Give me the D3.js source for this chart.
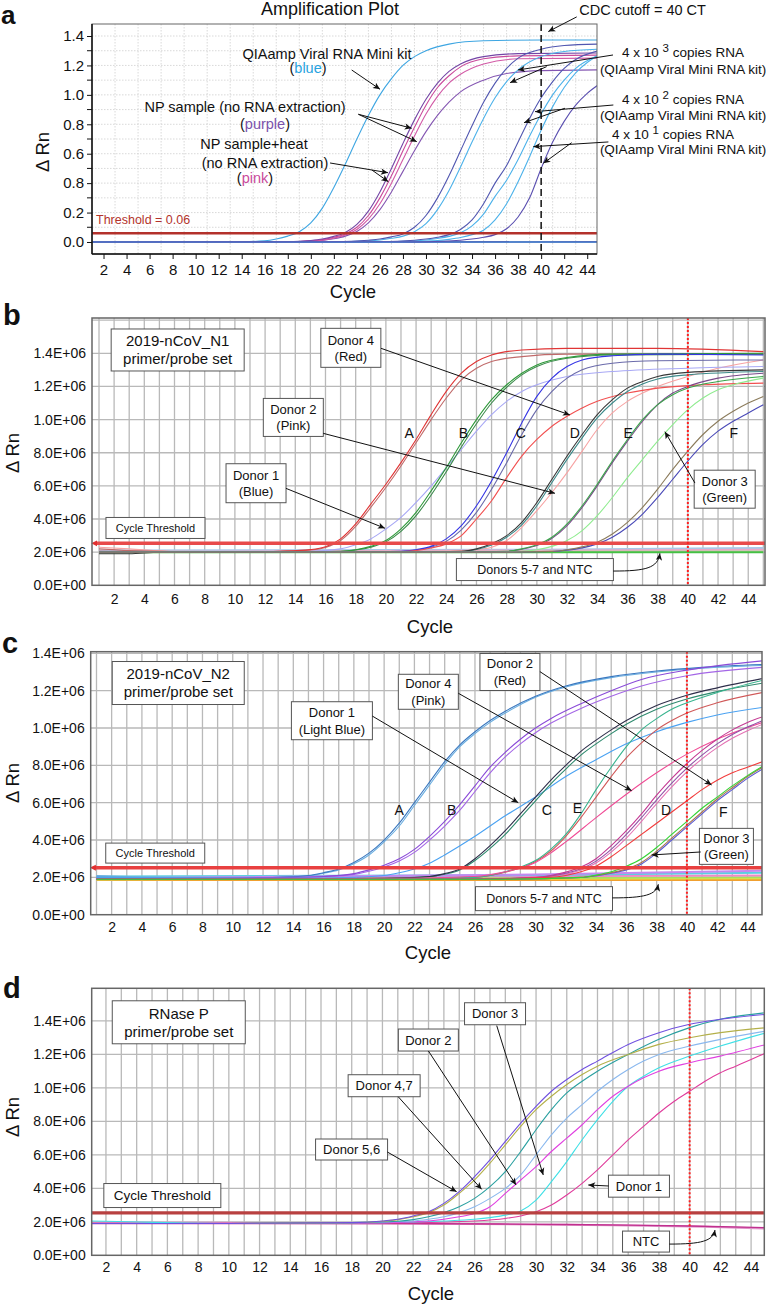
<!DOCTYPE html>
<html>
<head>
<meta charset="utf-8">
<title>Amplification plots</title>
<style>
body { margin: 0; background: #fff; }
text { font-family: "Liberation Sans", Arial, sans-serif; fill: #111; }
</style>
</head>
<body>
<svg width="771" height="1304"></svg>
<script src="https://cdn.jsdelivr.net/npm/d3@7"></script>
<script>
// ---------- data: [cycle, ΔRn] ----------
// panel a (ΔRn)
const aFlatLight = [[1, 0.0], [45, 0.0]];
const aFlatDark = [[1, -0.002], [45, 0.001]];
const aKit = [[1, 0], [14, 0.002], [16, 0.008], [17, 0.02], [18, 0.04], [19, 0.07], [20, 0.13], [21, 0.23], [22, 0.37], [23, 0.53], [24, 0.70], [25, 0.86], [26, 1.0], [27, 1.11], [28, 1.2], [29, 1.26], [30, 1.30], [32, 1.345], [35, 1.368], [40, 1.373], [45, 1.373]];
const aNp1 = [[1, 0], [18, 0.002], [20, 0.01], [21, 0.02], [22, 0.038], [23, 0.065], [24, 0.12], [25, 0.21], [26, 0.34], [27, 0.5], [28, 0.67], [29, 0.83], [30, 0.97], [31, 1.08], [32, 1.16], [33, 1.21], [35, 1.26], [38, 1.28], [45, 1.285]];
const aHeat1 = [[1, 0], [18, 0.002], [20, 0.008], [21, 0.017], [22, 0.032], [23, 0.055], [24, 0.1], [25, 0.18], [26, 0.3], [27, 0.45], [28, 0.62], [29, 0.78], [30, 0.93], [31, 1.05], [32, 1.13], [33, 1.19], [35, 1.245], [38, 1.265], [45, 1.27]];
const aHeat2 = [[1, 0], [18, 0.001], [20, 0.006], [21, 0.013], [22, 0.026], [23, 0.047], [24, 0.085], [25, 0.155], [26, 0.26], [27, 0.4], [28, 0.56], [29, 0.72], [30, 0.87], [31, 0.99], [32, 1.08], [33, 1.14], [35, 1.21], [38, 1.245], [45, 1.25]];
const aNp2 = [[1, 0], [18, 0.001], [20, 0.005], [21, 0.011], [22, 0.022], [23, 0.04], [24, 0.072], [25, 0.13], [26, 0.22], [27, 0.34], [28, 0.48], [29, 0.62], [30, 0.75], [31, 0.86], [32, 0.95], [33, 1.02], [35, 1.1], [37, 1.145], [40, 1.165], [45, 1.17]];
const aCopies3Dk = [[1, 0], [22, 0.002], [25, 0.012], [26, 0.02], [27, 0.035], [28, 0.055], [29, 0.1], [30, 0.18], [31, 0.3], [32, 0.45], [33, 0.62], [34, 0.79], [35, 0.95], [36, 1.08], [37, 1.18], [38, 1.25], [40, 1.31], [42, 1.335], [45, 1.345]];
const aCopies3Lt = [[1, 0], [22, 0.001], [25, 0.008], [26, 0.014], [27, 0.025], [28, 0.04], [29, 0.07], [30, 0.125], [31, 0.22], [32, 0.35], [33, 0.51], [34, 0.68], [35, 0.84], [36, 0.98], [37, 1.09], [38, 1.17], [40, 1.26], [42, 1.295], [45, 1.31]];
const aCopies2Dk = [[1, 0], [26, 0.002], [29, 0.012], [30, 0.02], [31, 0.032], [32, 0.05], [33, 0.085], [34, 0.15], [35, 0.26], [36, 0.4], [37, 0.52], [38, 0.68], [39, 0.84], [40, 0.98], [41, 1.09], [42, 1.18], [43, 1.24], [45, 1.3]];
const aCopies2Lt = [[1, 0], [26, 0.001], [29, 0.008], [30, 0.014], [31, 0.024], [32, 0.038], [33, 0.062], [34, 0.11], [35, 0.19], [36, 0.31], [37, 0.42], [38, 0.56], [39, 0.72], [40, 0.87], [41, 1.0], [42, 1.1], [43, 1.18], [45, 1.27]];
const aCopies1Lt = [[1, 0], [28, 0.002], [31, 0.01], [32, 0.018], [33, 0.03], [34, 0.05], [35, 0.08], [36, 0.15], [37, 0.26], [38, 0.41], [39, 0.58], [40, 0.76], [41, 0.92], [42, 1.05], [43, 1.15], [44, 1.22], [45, 1.27]];
const aCopies1Dk = [[1, 0], [30, 0.002], [33, 0.012], [34, 0.02], [35, 0.032], [36, 0.05], [37, 0.09], [38, 0.17], [39, 0.3], [40, 0.5], [41, 0.68], [42, 0.82], [43, 0.93], [44, 1.01], [45, 1.07]];
const aYTicks = [0, 0.2, 0.4, 0.6, 0.8, 1.0, 1.2, 1.4];
const aYLabels = ["0.0", "0.2", "0.8", "0.6", "0.8", "1.0", "1.2", "1.4"];

// panel b (ΔRn, plotted in millions)
const bRedA = [[1, 0.205], [10, 0.2], [13, 0.205], [15, 0.215], [16, 0.232], [17, 0.28], [18, 0.37], [19, 0.49], [20, 0.61], [21, 0.74], [22, 0.88], [23, 1.03], [24, 1.17], [25, 1.28], [26, 1.35], [27, 1.39], [29, 1.42], [32, 1.43], [38, 1.43], [45, 1.41]];
const bBrownA = [[1, 0.22], [3, 0.21], [10, 0.2], [13, 0.205], [15, 0.213], [16, 0.228], [17, 0.27], [18, 0.355], [19, 0.47], [20, 0.59], [21, 0.72], [22, 0.86], [23, 1.0], [24, 1.13], [25, 1.24], [26, 1.31], [27, 1.35], [29, 1.38], [32, 1.395], [45, 1.395]];
const bDonor1 = [[1, 0.2], [12, 0.2], [15, 0.205], [17, 0.22], [18, 0.245], [19, 0.28], [20, 0.34], [21, 0.41], [22, 0.5], [23, 0.6], [24, 0.71], [25, 0.82], [26, 0.93], [27, 1.03], [28, 1.11], [29, 1.17], [30, 1.21], [32, 1.26], [35, 1.29], [40, 1.31], [45, 1.32]];
const bGreenB = [[1, 0.2], [14, 0.2], [17, 0.205], [18, 0.215], [19, 0.235], [20, 0.27], [21, 0.34], [22, 0.44], [23, 0.57], [24, 0.71], [25, 0.86], [26, 1.0], [27, 1.12], [28, 1.21], [29, 1.28], [30, 1.33], [32, 1.375], [35, 1.395], [45, 1.40]];
const bGreenB2 = [[1, 0.2], [14, 0.2], [17, 0.204], [18, 0.213], [19, 0.23], [20, 0.262], [21, 0.325], [22, 0.42], [23, 0.545], [24, 0.685], [25, 0.835], [26, 0.975], [27, 1.1], [28, 1.195], [29, 1.27], [30, 1.32], [32, 1.37], [35, 1.39], [45, 1.395]];
const bBlueC = [[1, 0.2], [18, 0.2], [21, 0.205], [22, 0.215], [23, 0.235], [24, 0.28], [25, 0.36], [26, 0.48], [27, 0.63], [28, 0.8], [29, 0.98], [30, 1.14], [31, 1.25], [32, 1.32], [33, 1.36], [35, 1.385], [38, 1.395], [45, 1.39]];
const bSlateC = [[1, 0.2], [18, 0.2], [21, 0.204], [22, 0.212], [23, 0.23], [24, 0.265], [25, 0.335], [26, 0.44], [27, 0.58], [28, 0.74], [29, 0.91], [30, 1.06], [31, 1.17], [32, 1.25], [33, 1.3], [35, 1.34], [38, 1.355], [45, 1.36]];
const bDonor4 = [[1, 0.2], [20, 0.2], [22, 0.21], [23, 0.225], [24, 0.25], [25, 0.3], [26, 0.4], [27, 0.51], [28, 0.65], [29, 0.78], [30, 0.88], [31, 0.96], [32, 1.02], [33, 1.07], [34, 1.11], [36, 1.16], [38, 1.19], [41, 1.21], [45, 1.22]];
const bDonor2 = [[1, 0.23], [3, 0.22], [6, 0.205], [20, 0.2], [24, 0.205], [26, 0.215], [27, 0.23], [28, 0.27], [29, 0.35], [30, 0.45], [31, 0.56], [32, 0.68], [33, 0.81], [34, 0.94], [35, 1.04], [36, 1.11], [37, 1.16], [38, 1.2], [40, 1.26], [42, 1.31], [45, 1.36]];
const bBlackD = [[1, 0.19], [3, 0.19], [5, 0.2], [22, 0.2], [25, 0.205], [26, 0.22], [27, 0.25], [28, 0.3], [29, 0.38], [30, 0.5], [31, 0.64], [32, 0.78], [33, 0.91], [34, 1.03], [35, 1.12], [36, 1.19], [37, 1.23], [38, 1.26], [40, 1.285], [45, 1.3]];
const bTealD = [[1, 0.2], [22, 0.2], [25, 0.204], [26, 0.216], [27, 0.243], [28, 0.29], [29, 0.365], [30, 0.48], [31, 0.62], [32, 0.76], [33, 0.89], [34, 1.01], [35, 1.1], [36, 1.17], [37, 1.215], [38, 1.245], [40, 1.27], [45, 1.29]];
const bGreenE = [[1, 0.2], [25, 0.2], [28, 0.205], [29, 0.22], [30, 0.245], [31, 0.29], [32, 0.37], [33, 0.48], [34, 0.61], [35, 0.75], [36, 0.88], [37, 1.0], [38, 1.09], [39, 1.15], [40, 1.19], [42, 1.23], [45, 1.26]];
const bPurpleE = [[1, 0.2], [25, 0.2], [28, 0.204], [29, 0.218], [30, 0.24], [31, 0.283], [32, 0.36], [33, 0.47], [34, 0.6], [35, 0.74], [36, 0.87], [37, 0.99], [38, 1.09], [39, 1.16], [40, 1.2], [42, 1.25], [45, 1.28]];
const bDonor3 = [[1, 0.2], [26, 0.2], [29, 0.205], [30, 0.215], [31, 0.235], [32, 0.27], [33, 0.33], [34, 0.42], [35, 0.53], [36, 0.65], [37, 0.76], [38, 0.87], [39, 0.97], [40, 1.06], [41, 1.13], [42, 1.18], [43, 1.21], [45, 1.25]];
const bOliveF = [[1, 0.2], [28, 0.2], [31, 0.205], [32, 0.215], [33, 0.232], [34, 0.26], [35, 0.31], [36, 0.38], [37, 0.47], [38, 0.58], [39, 0.7], [40, 0.81], [41, 0.91], [42, 0.99], [43, 1.05], [44, 1.1], [45, 1.14]];
const bNavyF = [[1, 0.2], [28, 0.2], [31, 0.204], [32, 0.212], [33, 0.226], [34, 0.25], [35, 0.29], [36, 0.35], [37, 0.43], [38, 0.53], [39, 0.64], [40, 0.75], [41, 0.85], [42, 0.93], [43, 0.99], [44, 1.04], [45, 1.09]];
const bNtc1 = [[1, 0.2], [45, 0.2]];
const bNtc2 = [[1, 0.2], [45, 0.205]];
const bNtc3 = [[1, 0.21], [30, 0.215], [45, 0.225]];
const bNtc4 = [[1, 0.2], [45, 0.215]];
const bThreshold = 0.253;

// panel c (ΔRn, plotted in millions)
const cBlueA = [[1, 0.2], [10, 0.195], [13, 0.2], [15, 0.21], [16, 0.225], [17, 0.245], [18, 0.28], [19, 0.33], [20, 0.4], [21, 0.49], [22, 0.6], [23, 0.71], [24, 0.82], [25, 0.91], [26, 0.98], [27, 1.04], [28, 1.09], [30, 1.17], [32, 1.225], [35, 1.275], [38, 1.305], [41, 1.325], [45, 1.34]];
const cLtBlueA = [[1, 0.21], [10, 0.195], [13, 0.2], [15, 0.208], [16, 0.222], [17, 0.24], [18, 0.273], [19, 0.32], [20, 0.39], [21, 0.475], [22, 0.585], [23, 0.695], [24, 0.805], [25, 0.9], [26, 0.97], [27, 1.03], [28, 1.08], [30, 1.165], [32, 1.22], [35, 1.27], [38, 1.3], [41, 1.32], [45, 1.335]];
const cPurpleB = [[1, 0.19], [8, 0.195], [14, 0.2], [16, 0.205], [18, 0.22], [19, 0.24], [20, 0.265], [21, 0.3], [22, 0.35], [23, 0.42], [24, 0.5], [25, 0.59], [26, 0.69], [27, 0.79], [28, 0.87], [29, 0.94], [30, 1.0], [31, 1.05], [33, 1.13], [35, 1.2], [37, 1.26], [40, 1.31], [45, 1.36]];
const cPurpleB2 = [[1, 0.2], [8, 0.195], [14, 0.2], [16, 0.204], [18, 0.216], [19, 0.233], [20, 0.256], [21, 0.288], [22, 0.334], [23, 0.4], [24, 0.475], [25, 0.56], [26, 0.66], [27, 0.76], [28, 0.845], [29, 0.915], [30, 0.975], [31, 1.025], [33, 1.105], [35, 1.17], [37, 1.225], [40, 1.28], [45, 1.325]];
const cDonor1 = [[1, 0.2], [14, 0.195], [18, 0.2], [20, 0.21], [21, 0.225], [22, 0.245], [23, 0.275], [24, 0.32], [26, 0.42], [28, 0.53], [30, 0.63], [32, 0.74], [34, 0.83], [36, 0.915], [38, 0.98], [40, 1.03], [42, 1.07], [45, 1.11]];
const cBlackC = [[1, 0.19], [12, 0.19], [20, 0.195], [23, 0.205], [24, 0.22], [25, 0.245], [26, 0.3], [27, 0.37], [28, 0.45], [29, 0.54], [30, 0.63], [31, 0.72], [32, 0.8], [33, 0.875], [34, 0.935], [35, 0.99], [36, 1.04], [38, 1.12], [40, 1.175], [42, 1.215], [45, 1.265]];
const cTealC = [[1, 0.19], [12, 0.19], [20, 0.195], [23, 0.204], [24, 0.217], [25, 0.24], [26, 0.29], [27, 0.355], [28, 0.43], [29, 0.52], [30, 0.61], [31, 0.7], [32, 0.78], [33, 0.855], [34, 0.915], [35, 0.97], [36, 1.02], [38, 1.1], [40, 1.155], [42, 1.195], [45, 1.24]];
const cTealE = [[1, 0.19], [20, 0.19], [26, 0.2], [27, 0.21], [28, 0.23], [29, 0.255], [30, 0.29], [31, 0.35], [32, 0.43], [33, 0.54], [34, 0.67], [35, 0.79], [36, 0.9], [37, 0.99], [38, 1.05], [39, 1.1], [40, 1.135], [42, 1.19], [45, 1.255]];
const cRedE = [[1, 0.19], [20, 0.19], [26, 0.2], [27, 0.21], [28, 0.228], [29, 0.25], [30, 0.285], [31, 0.34], [32, 0.42], [33, 0.52], [34, 0.63], [35, 0.74], [36, 0.84], [37, 0.92], [38, 0.99], [39, 1.04], [40, 1.08], [42, 1.135], [45, 1.19]];
const cDonor4 = [[1, 0.19], [20, 0.195], [26, 0.205], [28, 0.23], [29, 0.25], [30, 0.28], [31, 0.33], [32, 0.39], [34, 0.52], [36, 0.645], [38, 0.76], [40, 0.86], [42, 0.94], [45, 1.03]];
const cMagentaD = [[1, 0.19], [25, 0.19], [30, 0.2], [31, 0.21], [32, 0.228], [33, 0.255], [34, 0.3], [35, 0.37], [36, 0.45], [37, 0.54], [38, 0.64], [39, 0.73], [40, 0.81], [41, 0.88], [42, 0.94], [43, 0.99], [44, 1.03], [45, 1.06]];
const cPurpleD = [[1, 0.19], [25, 0.19], [30, 0.199], [31, 0.207], [32, 0.222], [33, 0.246], [34, 0.287], [35, 0.35], [36, 0.43], [37, 0.52], [38, 0.615], [39, 0.705], [40, 0.785], [41, 0.855], [42, 0.915], [43, 0.965], [44, 1.005], [45, 1.04]];
const cPinkD = [[1, 0.19], [25, 0.19], [30, 0.198], [31, 0.205], [32, 0.218], [33, 0.24], [34, 0.277], [35, 0.335], [36, 0.41], [37, 0.5], [38, 0.595], [39, 0.685], [40, 0.765], [41, 0.835], [42, 0.895], [43, 0.945], [44, 0.985], [45, 1.02]];
const cDonor2 = [[1, 0.19], [25, 0.19], [31, 0.2], [32, 0.21], [33, 0.23], [34, 0.26], [35, 0.31], [36, 0.37], [37, 0.43], [38, 0.49], [39, 0.55], [40, 0.61], [41, 0.67], [42, 0.72], [43, 0.76], [44, 0.79], [45, 0.82]];
const cBrownF = [[1, 0.19], [28, 0.19], [33, 0.2], [34, 0.21], [35, 0.225], [36, 0.245], [37, 0.28], [38, 0.34], [39, 0.41], [40, 0.48], [41, 0.55], [42, 0.62], [43, 0.68], [44, 0.74], [45, 0.79]];
const cBlueF = [[1, 0.19], [28, 0.19], [33, 0.199], [34, 0.208], [35, 0.222], [36, 0.24], [37, 0.272], [38, 0.33], [39, 0.4], [40, 0.47], [41, 0.54], [42, 0.61], [43, 0.67], [44, 0.73], [45, 0.78]];
const cDonor3 = [[1, 0.19], [28, 0.19], [33, 0.2], [34, 0.212], [35, 0.23], [36, 0.26], [37, 0.3], [38, 0.36], [39, 0.43], [40, 0.5], [41, 0.57], [42, 0.63], [43, 0.69], [44, 0.745], [45, 0.795]];
const cNtc1 = [[1, 0.186], [45, 0.186]];
const cNtc2 = [[1, 0.205], [30, 0.212], [45, 0.225]];
const cNtc3 = [[1, 0.2], [45, 0.21]];
const cNtc4 = [[1, 0.195], [30, 0.215], [45, 0.235]];
const cNtc5 = [[1, 0.19], [45, 0.2]];
const cNtc6 = [[1, 0.19], [45, 0.195]];
const cThreshold = 0.252;

// panel d (ΔRn, plotted in millions)
const dDonor56 = [[1, 0.19], [10, 0.19], [18, 0.195], [20, 0.205], [21, 0.215], [22, 0.235], [23, 0.26], [24, 0.31], [25, 0.38], [26, 0.47], [27, 0.57], [28, 0.68], [29, 0.79], [30, 0.89], [31, 0.98], [32, 1.05], [33, 1.11], [34, 1.16], [36, 1.26], [38, 1.33], [40, 1.38], [42, 1.41], [45, 1.44]];
const dOlive = [[1, 0.19], [10, 0.19], [18, 0.195], [20, 0.203], [21, 0.213], [22, 0.23], [23, 0.255], [24, 0.3], [25, 0.37], [26, 0.45], [27, 0.55], [28, 0.66], [29, 0.77], [30, 0.87], [31, 0.95], [32, 1.02], [33, 1.08], [34, 1.13], [36, 1.2], [38, 1.26], [40, 1.3], [42, 1.33], [45, 1.36]];
const dTeal = [[1, 0.19], [10, 0.19], [18, 0.195], [21, 0.203], [22, 0.213], [23, 0.23], [24, 0.255], [25, 0.29], [26, 0.34], [27, 0.41], [28, 0.5], [29, 0.62], [30, 0.75], [31, 0.87], [32, 0.97], [33, 1.04], [34, 1.1], [36, 1.2], [38, 1.29], [40, 1.36], [42, 1.41], [45, 1.45]];
const dDonor2 = [[1, 0.19], [10, 0.19], [18, 0.195], [22, 0.205], [23, 0.215], [24, 0.23], [25, 0.255], [26, 0.29], [27, 0.34], [28, 0.4], [29, 0.48], [30, 0.6], [31, 0.72], [32, 0.82], [33, 0.9], [34, 0.98], [35, 1.05], [36, 1.11], [37, 1.16], [38, 1.2], [40, 1.25], [42, 1.29], [45, 1.34]];
const dDonor3 = [[1, 0.19], [10, 0.19], [20, 0.195], [23, 0.205], [24, 0.215], [25, 0.23], [26, 0.25], [27, 0.29], [28, 0.37], [29, 0.45], [30, 0.53], [31, 0.62], [32, 0.7], [33, 0.78], [34, 0.87], [35, 0.95], [36, 1.01], [37, 1.06], [38, 1.1], [40, 1.15], [42, 1.19], [45, 1.26]];
const dCyan = [[1, 0.205], [3.5, 0.2], [10, 0.19], [20, 0.195], [24, 0.205], [26, 0.215], [27, 0.225], [28, 0.24], [29, 0.265], [30, 0.33], [31, 0.44], [32, 0.56], [33, 0.69], [34, 0.81], [35, 0.92], [36, 1.01], [37, 1.07], [38, 1.12], [40, 1.19], [42, 1.25], [45, 1.33]];
const dDonor1 = [[1, 0.19], [10, 0.19], [22, 0.195], [26, 0.205], [28, 0.22], [29, 0.235], [30, 0.26], [31, 0.3], [32, 0.36], [33, 0.43], [34, 0.51], [35, 0.6], [36, 0.69], [37, 0.77], [38, 0.85], [39, 0.92], [40, 0.98], [41, 1.04], [42, 1.09], [43, 1.13], [44, 1.17], [45, 1.21]];
const dNtc1 = [[1, 0.19], [20, 0.19], [30, 0.185], [36, 0.18], [40, 0.175], [45, 0.165]];
const dNtc2 = [[1, 0.195], [22, 0.19], [35, 0.18], [41, 0.17], [45, 0.16]];
const dThreshold = 0.254;

const bcdYTicks = [0, 0.2, 0.4, 0.6, 0.8, 1.0, 1.2, 1.4];
const bcdYLabels = ["0.0E+00", "2.0E+06", "4.0E+06", "6.0E+06", "8.0E+06", "1.0E+06", "1.2E+06", "1.4E+06"];
const xTicks = d3.range(2, 45, 2);
const cutoffCycle = 40;

// ---------- drawing ----------
const svg = d3.select("svg");
const defs = svg.append("defs");
defs.append("marker").attr("id", "arr")
  .attr("viewBox", "0 0 10 10").attr("refX", 10).attr("refY", 5)
  .attr("markerWidth", 9).attr("markerHeight", 7).attr("markerUnits", "userSpaceOnUse")
  .attr("orient", "auto")
  .append("path").attr("d", "M0,0.5 L10,5 L0,9.5 L2.5,5 z").attr("fill", "#111");
defs.append("marker").attr("id", "redArr")
  .attr("viewBox", "0 0 10 10").attr("refX", 2).attr("refY", 5)
  .attr("markerWidth", 6).attr("markerHeight", 7).attr("markerUnits", "userSpaceOnUse")
  .attr("orient", "auto-start-reverse")
  .append("path").attr("d", "M0,0 L10,5 L0,10 z").attr("fill", "#e03030");

const line = d3.line().curve(d3.curveMonotoneX);

function drawPanel(cfg) {
  const [x0, y0, x1, y1] = cfg.box;
  const x = d3.scaleLinear().domain(cfg.xDomain).range([x0, x1]);
  const y = d3.scaleLinear().domain(cfg.yDomain).range([y1, y0]);
  const g = svg.append("g");
  defs.append("clipPath").attr("id", "clip-" + cfg.id)
    .append("rect").attr("x", x0).attr("y", y0).attr("width", x1 - x0).attr("height", y1 - y0);

  // grid
  const grid = g.append("g").attr("stroke", cfg.gridColor).attr("stroke-width", cfg.gridWidth)
    .attr("stroke-dasharray", cfg.gridDash);
  grid.selectAll(".gv").data(cfg.gridX.filter(d => x(d) > x0 + 0.5 && x(d) < x1 - 0.5)).join("line")
    .attr("class", "gv").attr("x1", d => x(d)).attr("x2", d => x(d)).attr("y1", y0).attr("y2", y1);
  grid.selectAll(".gh").data(cfg.gridY.filter(d => y(d) > y0 + 0.5 && y(d) < y1 - 0.5)).join("line")
    .attr("class", "gh").attr("x1", x0).attr("x2", x1).attr("y1", d => y(d)).attr("y2", d => y(d));

  // curves
  line.x(d => x(d[0])).y(d => y(d[1]));
  g.append("g").attr("clip-path", "url(#clip-" + cfg.id + ")")
    .selectAll("path").data(cfg.series).join("path")
    .attr("d", d => line(d.pts))
    .attr("fill", "none")
    .attr("stroke", d => d.color)
    .attr("stroke-width", d => d.w || 1.1);

  // threshold
  const th = g.append("line").attr("x1", x0 + (cfg.thArrow ? 4 : 0)).attr("x2", x1)
    .attr("y1", y(cfg.threshold)).attr("y2", y(cfg.threshold))
    .attr("stroke", cfg.thColor).attr("stroke-width", cfg.thWidth);
  if (cfg.thArrow) th.attr("marker-start", "url(#redArr)");

  // CT cutoff
  g.append("line").attr("x1", x(cutoffCycle)).attr("x2", x(cutoffCycle)).attr("y1", y0).attr("y2", y1)
    .attr("stroke", cfg.cutColor).attr("stroke-width", cfg.cutWidth).attr("stroke-dasharray", cfg.cutDash);

  // frame
  g.append("rect").attr("x", x0).attr("y", y0).attr("width", x1 - x0).attr("height", y1 - y0)
    .attr("fill", "none").attr("stroke", cfg.frameColor).attr("stroke-width", cfg.frameWidth);

  // axes
  const ya = g.append("g").attr("transform", `translate(${x0},0)`)
    .call(d3.axisLeft(y).tickValues(cfg.yTicks).tickFormat((d, i) => cfg.yLabels[i])
      .tickSize(cfg.tickSize).tickPadding(cfg.yPad));
  const xa = g.append("g").attr("transform", `translate(0,${y1})`)
    .call(d3.axisBottom(x).tickValues(xTicks).tickFormat(d3.format("d"))
      .tickSize(cfg.tickSize).tickPadding(cfg.xPad));
  [ya, xa].forEach(a => {
    a.select(".domain").remove();
    a.selectAll("text").attr("font-size", cfg.tickFont).attr("fill", "#111")
      .attr("font-family", '"Liberation Sans", Arial, sans-serif');
    a.selectAll("line").attr("stroke", "#111");
  });
  if (cfg.minorY) {
    g.append("g").selectAll("line").data(cfg.minorY).join("line")
      .attr("x1", x0 - cfg.tickSize).attr("x2", x0).attr("y1", d => y(d)).attr("y2", d => y(d))
      .attr("stroke", "#111");
  }
  if (cfg.axisLines) {
    g.append("line").attr("x1", x0).attr("x2", x0).attr("y1", y0).attr("y2", y1).attr("stroke", "#111").attr("stroke-width", 1.5);
    g.append("line").attr("x1", x0).attr("x2", x1).attr("y1", y1).attr("y2", y1).attr("stroke", "#111").attr("stroke-width", 1.5);
  }

  // titles
  g.append("text").attr("x", cfg.cycleLabel[0]).attr("y", cfg.cycleLabel[1])
    .attr("text-anchor", "middle").attr("font-size", 18.5).text("Cycle");
  g.append("text").attr("transform", `translate(${cfg.rnLabel[0]},${cfg.rnLabel[1]}) rotate(-90)`)
    .attr("text-anchor", "middle").attr("dy", "0.35em").attr("font-size", 18.5).text("Δ Rn");
  g.append("text").attr("x", cfg.letter[0]).attr("y", cfg.letter[1])
    .attr("font-size", cfg.letter[2] || 29).attr("font-weight", "bold").text(cfg.id);
  return { g, x, y };
}

function label(P, c, v, parts, anchor, size) {
  const t = P.g.append("text").attr("x", P.x(c)).attr("y", P.y(v))
    .attr("text-anchor", anchor).attr("font-size", size);
  parts.forEach(p => {
    const s = t.append("tspan").text(p[0]);
    if (p[1]) s.attr("fill", p[1]);
  });
  return t;
}

function copies(P, c, v, c2, v2, exp) {
  const t = P.g.append("text").attr("x", P.x(c)).attr("y", P.y(v))
    .attr("text-anchor", "middle").attr("font-size", 13.5);
  t.append("tspan").text("4 x 10 ");
  t.append("tspan").attr("dy", -5).attr("font-size", 11.5).text(exp);
  t.append("tspan").attr("dy", 5).text(" copies RNA");
  label(P, c2, v2, [["(QIAamp Viral Mini RNA kit)"]], "middle", 13.5);
}

function arrow(P, from, to) {
  P.g.append("line").attr("x1", P.x(from[0])).attr("y1", P.y(from[1]))
    .attr("x2", P.x(to[0])).attr("y2", P.y(to[1]))
    .attr("stroke", "#111").attr("stroke-width", 1).attr("marker-end", "url(#arr)");
}

function curl(P, from, to) {
  const ax = P.x(from[0]), ay = P.y(from[1]), bx = P.x(to[0]), by = P.y(to[1]);
  const p = d3.path();
  p.moveTo(ax, ay);
  p.bezierCurveTo(ax + (bx - ax) * 0.7, ay, bx - 2, ay - 3, bx, by);
  P.g.append("path").attr("d", p.toString()).attr("fill", "none")
    .attr("stroke", "#111").attr("stroke-width", 1).attr("marker-end", "url(#arr)");
}

function box(P, c, v, w, h, lines, size, lh) {
  const cx = P.x(c), cy = P.y(v);
  P.g.append("rect").attr("x", cx - w / 2).attr("y", cy - h / 2).attr("width", w).attr("height", h)
    .attr("fill", "#fff").attr("stroke", "#555").attr("stroke-width", 1);
  lines.forEach((s, i) => {
    P.g.append("text").attr("x", cx).attr("y", cy + (i - (lines.length - 1) / 2) * lh)
      .attr("dy", "0.36em").attr("text-anchor", "middle").attr("font-size", size).text(s);
  });
}

// ---------- panel a ----------
const A = drawPanel({
  id: "a", box: [92, 24, 597, 254], xDomain: [1, 44.85], yDomain: [-0.0816, 1.4816],
  gridX: d3.range(3, 45, 2), gridY: d3.range(0.1, 1.45, 0.1),
  gridColor: "#cfcfcf", gridWidth: 0.8, gridDash: "1.5,1.5",
  series: [
    { pts: aFlatLight, color: "#62b4ea", w: 2 },
    { pts: aFlatDark, color: "#4a58b0" },
    { pts: aKit, color: "#3ea6e2" },
    { pts: aNp2, color: "#8456b2" },
    { pts: aHeat2, color: "#d25aa6" },
    { pts: aHeat1, color: "#c94a9b" },
    { pts: aNp1, color: "#7446a6" },
    { pts: aCopies3Lt, color: "#4cb2ea" },
    { pts: aCopies3Dk, color: "#5056b0" },
    { pts: aCopies2Lt, color: "#4cb2ea" },
    { pts: aCopies2Dk, color: "#5056b0" },
    { pts: aCopies1Lt, color: "#4cb2ea" },
    { pts: aCopies1Dk, color: "#5a4fb0" }
  ],
  threshold: 0.06, thColor: "#b3312b", thWidth: 2.5,
  cutColor: "#111", cutWidth: 1.5, cutDash: "7,4",
  frameColor: "#666", frameWidth: 1, axisLines: true,
  yTicks: aYTicks, yLabels: aYLabels, minorY: d3.range(0.1, 1.45, 0.2),
  tickSize: 5, yPad: 3, xPad: 5, tickFont: 15,
  cycleLabel: [353, 298], rnLabel: [43, 152], letter: [1, 24, 26]
});
A.g.append("text").attr("x", 330).attr("y", 15).attr("text-anchor", "middle")
  .attr("font-size", 18).text("Amplification Plot");
label(A, 21.41, 1.244, [["QIAamp Viral RNA Mini kit"]], "middle", 14.5);
label(A, 19.76, 1.149, [["("], ["blue", "#29a3e0"], [")"]], "middle", 14.5);
arrow(A, [23.55, 1.169], [26.01, 1.038]);
label(A, 14.29, 0.882, [["NP sample (no RNA extraction)"]], "middle", 14.5);
label(A, 16.02, 0.766, [["("], ["purple", "#7b52ab"], [")"]], "middle", 14.5);
arrow(A, [24.13, 0.868], [28.76, 0.773]);
arrow(A, [24.13, 0.868], [29.2, 0.682]);
label(A, 15.07, 0.632, [["NP sample+heat"]], "middle", 14.5);
label(A, 16.02, 0.501, [["(no RNA extraction)"]], "middle", 14.5);
label(A, 15.15, 0.399, [["("], ["pink", "#c94a9b"], [")"]], "middle", 14.5);
arrow(A, [21.67, 0.537], [26.7, 0.471]);
arrow(A, [25.31, 0.489], [26.73, 0.41]);
label(A, 1.35, 0.12, [["Threshold = 0.06", "#b3332b"]], "start", 12.5);
label(A, 43.31, 1.543, [["CDC cutoff = 40 CT"]], "start", 14.5);
arrow(A, [43.09, 1.53], [40.62, 1.43]);
copies(A, 52.32, 1.26, 52.32, 1.142, "3");
arrow(A, [46.24, 1.271], [37.99, 1.169]);
arrow(A, [40.48, 1.192], [37.3, 1.083]);
copies(A, 52.32, 0.935, 52.32, 0.829, "2");
arrow(A, [46.27, 0.931], [39.47, 0.886]);
arrow(A, [42.07, 0.909], [38.51, 0.811]);
copies(A, 51.45, 0.70, 52.32, 0.598, "1");
arrow(A, [45.84, 0.68], [39.32, 0.648]);
arrow(A, [42.65, 0.675], [40.19, 0.535]);

// ---------- panel b ----------
const gridCommon = { gridX: d3.range(1, 46, 1), gridY: d3.range(0.2, 1.61, 0.2),
  gridColor: "#b9b9b9", gridWidth: 1.3, gridDash: null,
  cutColor: "#ff1f1f", cutWidth: 2, cutDash: "2,2",
  frameColor: "#666", frameWidth: 1.5, yTicks: bcdYTicks, yLabels: bcdYLabels,
  tickSize: 0, yPad: 6, tickFont: 14 };

const B = drawPanel(Object.assign({}, gridCommon, {
  id: "b", box: [92, 318, 765, 585.3], xDomain: [0.536, 45.11], yDomain: [0, 1.613],
  series: [
    { pts: bNtc3, color: "#a8c8e8", w: 2 }, { pts: bNtc4, color: "#e8a8c8", w: 2 },
    { pts: bNtc2, color: "#c8c8b0", w: 2 }, { pts: bNtc1, color: "#44c044", w: 2 },
    { pts: bDonor2, color: "#f7a3a3" }, { pts: bDonor1, color: "#a8a8f5" },
    { pts: bBrownA, color: "#c06a6a" }, { pts: bRedA, color: "#e03535" },
    { pts: bGreenB2, color: "#3c8c4c" }, { pts: bGreenB, color: "#2f9a3a" },
    { pts: bSlateC, color: "#6a6aaa" }, { pts: bBlueC, color: "#3535e5" },
    { pts: bDonor4, color: "#f25050" },
    { pts: bTealD, color: "#3d8a8a" }, { pts: bBlackD, color: "#383838" },
    { pts: bPurpleE, color: "#7a4a8a" }, { pts: bGreenE, color: "#3aa54a" },
    { pts: bDonor3, color: "#90ec90" },
    { pts: bNavyF, color: "#4a4ab8" }, { pts: bOliveF, color: "#8c7c5c" }
  ],
  threshold: bThreshold, thColor: "#e84a4a", thWidth: 3.5, thArrow: true,
  xPad: 9, cycleLabel: [430, 633], rnLabel: [13, 453], letter: [3, 325]
}));
box(B, 6.21, 1.42, 133, 42, ["2019-nCoV_N1", "primer/probe  set"], 15, 18);
box(B, 17.68, 1.433, 60, 39, ["Donor 4", "(Red)"], 13, 16);
arrow(B, [19.68, 1.43], [32.19, 1.028]);
box(B, 13.87, 1.013, 60, 38, ["Donor 2", "(Pink)"], 13, 16);
arrow(B, [15.85, 0.917], [31.2, 0.555]);
box(B, 11.4, 0.616, 60, 39, ["Donor 1", "(Blue)"], 13, 16);
arrow(B, [13.38, 0.585], [19.94, 0.344]);
box(B, 4.74, 0.346, 99, 21, ["Cycle  Threshold"], 11, 0);
box(B, 29.87, 0.095, 157, 22, ["Donors 5-7 and NTC"], 12.5, 0);
curl(B, [35.06, 0.086], [38.15, 0.193]);
box(B, 42.44, 0.58, 61, 38, ["Donor 3", "(Green)"], 13, 16);
arrow(B, [40.47, 0.617], [38.48, 0.927]);
[["A", 21.55], ["B", 25.13], ["C", 28.93], ["D", 32.52], ["E", 36.05], ["F", 43.05]]
  .forEach(d => label(B, d[1], 0.917, [[d[0]]], "middle", 14).attr("dy", "0.36em"));

// ---------- panel c ----------
const C = drawPanel(Object.assign({}, gridCommon, {
  id: "c", box: [90.7, 651.7, 762, 914.7], xDomain: [0.617, 44.96], yDomain: [0, 1.4087],
  series: [
    { pts: cNtc1, color: "#f0a030", w: 2 }, { pts: cNtc6, color: "#e8e048", w: 2 },
    { pts: cNtc5, color: "#a8e060", w: 2 }, { pts: cNtc3, color: "#f088c8", w: 2 },
    { pts: cNtc2, color: "#5ad0e0", w: 2 }, { pts: cNtc4, color: "#c488f0", w: 2 },
    { pts: cLtBlueA, color: "#6aaee0" }, { pts: cBlueA, color: "#3a78c0" },
    { pts: cPurpleB2, color: "#a466e6" }, { pts: cPurpleB, color: "#8a4ad8" },
    { pts: cDonor1, color: "#4aa2f2" },
    { pts: cTealC, color: "#2e8a6e" }, { pts: cBlackC, color: "#2e2e4a" },
    { pts: cRedE, color: "#d05858" }, { pts: cTealE, color: "#38b48e" },
    { pts: cDonor4, color: "#f04c96" },
    { pts: cPinkD, color: "#e472b4" }, { pts: cPurpleD, color: "#9452a8" }, { pts: cMagentaD, color: "#c43a94" },
    { pts: cDonor2, color: "#f23c3c" },
    { pts: cBlueF, color: "#5a5ad2" }, { pts: cBrownF, color: "#a8744e" },
    { pts: cDonor3, color: "#34d434" }
  ],
  threshold: cThreshold, thColor: "#e84040", thWidth: 3.5, thArrow: true,
  xPad: 7, cycleLabel: [428, 959], rnLabel: [13, 783], letter: [2, 653]
}));
box(C, 6.4, 1.241, 132, 43, ["2019-nCoV_N2", "primer/probe  set"], 15, 18);
box(C, 16.55, 1.039, 81, 38, ["Donor 1", "(Light Blue)"], 13, 16.5);
arrow(C, [19.22, 1.064], [28.86, 0.6]);
box(C, 22.92, 1.194, 60, 35, ["Donor 4", "(Pink)"], 13, 16.5);
arrow(C, [24.9, 1.186], [36.35, 0.664]);
box(C, 28.31, 1.3, 60, 37, ["Donor 2", "(Red)"], 13, 16.5);
arrow(C, [30.29, 1.302], [41.63, 0.695]);
box(C, 42.61, 0.366, 54, 36, ["Donor 3", "(Green)"], 13, 16.5);
arrow(C, [40.91, 0.336], [37.67, 0.32]);
box(C, 4.88, 0.33, 99, 20, ["Cycle  Threshold"], 11, 0);
box(C, 30.56, 0.086, 137, 24, ["Donors 5-7 and NTC"], 12.5, 0);
curl(C, [35.07, 0.09], [38.11, 0.163]);
[["A", 21.0, 0.561], ["B", 24.46, 0.561], ["C", 30.74, 0.561], ["E", 32.76, 0.57], ["D", 38.62, 0.561], ["F", 42.4, 0.552]]
  .forEach(d => label(C, d[1], d[2], [[d[0]]], "middle", 14).attr("dy", "0.36em"));

// ---------- panel d ----------
const D = drawPanel(Object.assign({}, gridCommon, {
  id: "d", box: [91.7, 988.3, 764.3, 1255.3], xDomain: [1.072, 44.86], yDomain: [0, 1.595],
  series: [
    { pts: dNtc2, color: "#e090c8", w: 2 }, { pts: dNtc1, color: "#c0308e", w: 1.4 },
    { pts: dDonor1, color: "#e03c9c" }, { pts: dCyan, color: "#40e0e6" },
    { pts: dDonor3, color: "#e040e0" }, { pts: dDonor2, color: "#8ab8ee" },
    { pts: dTeal, color: "#2aa0a0" }, { pts: dOlive, color: "#b4b04a" },
    { pts: dDonor56, color: "#7050e0" }
  ],
  threshold: dThreshold, thColor: "#b84040", thWidth: 3.2,
  xPad: 7, cycleLabel: [431, 1300], rnLabel: [13, 1117], letter: [3, 998]
}));
box(D, 6.74, 1.392, 133, 43, ["RNase P", "primer/probe  set"], 15, 18);
box(D, 27.33, 1.443, 61, 22, ["Donor 3"], 13, 0);
arrow(D, [27.44, 1.372], [30.47, 0.48]);
box(D, 22.99, 1.286, 60, 22, ["Donor 2"], 13, 0);
arrow(D, [22.99, 1.221], [28.7, 0.42]);
box(D, 20.11, 1.013, 72, 22, ["Donor 4,7"], 13, 0);
arrow(D, [21.03, 0.947], [26.46, 0.394]);
box(D, 17.99, 0.632, 72, 21, ["Donor 5,6"], 13, 0);
arrow(D, [20.32, 0.617], [24.83, 0.38]);
box(D, 36.7, 0.413, 61, 22, ["Donor 1"], 13, 0);
arrow(D, [34.73, 0.414], [33.4, 0.42]);
box(D, 5.67, 0.357, 117, 24, ["Cycle Threshold"], 13.5, 0);
box(D, 37.16, 0.082, 47, 21, ["NTC"], 13, 0);
curl(D, [38.68, 0.067], [41.65, 0.151]);
</script>
</body>
</html>
